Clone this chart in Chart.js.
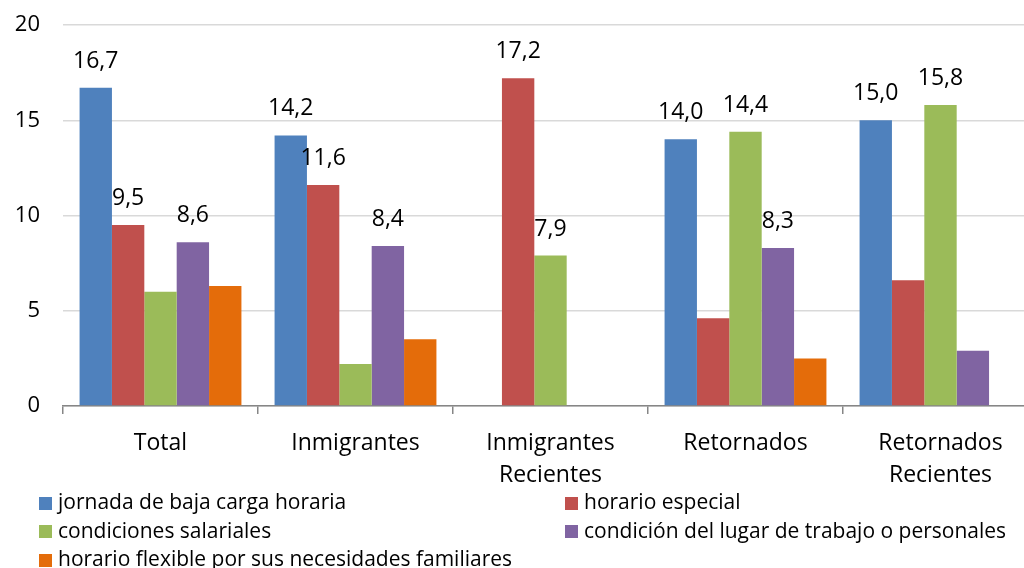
<!DOCTYPE html>
<html><head><meta charset="utf-8">
<script src="https://cdn.jsdelivr.net/npm/chart.js@4.4.0/dist/chart.umd.min.js"></script>
<style>
html,body{margin:0;padding:0;width:1024px;height:568px;overflow:hidden;background:#fff;}
#wrap{position:absolute;left:0;top:0;width:1038px;height:568px;}
#legend{position:absolute;left:0;top:0;width:1024px;height:568px;font-family:'Open Sans',sans-serif;font-size:21px;color:#000;}
.li{position:absolute;white-space:nowrap;display:flex;align-items:center;height:24px;line-height:24px;}
.sw{width:13px;height:13px;margin-right:6px;flex:none;position:relative;top:2px;}
</style></head>
<body>
<div id="wrap"><canvas id="c" width="1038" height="568"></canvas></div>
<div id="legend"></div>
<script>
const categories = [['Total'], ['Inmigrantes'], ['Inmigrantes', 'Recientes'], ['Retornados'], ['Retornados', 'Recientes']];
const seriesNames = ['jornada de baja carga horaria', 'horario especial', 'condiciones salariales', 'condición del lugar de trabajo o personales', 'horario flexible por sus necesidades familiares'];
const seriesColors = ['#4F81BD', '#C0504D', '#9BBB59', '#8064A2', '#E46C0A'];
const jornadaBaja = [16.7, 14.2, null, 14.0, 15.0];
const horarioEspecial = [9.5, 11.6, 17.2, 4.6, 6.6];
const condicionesSalariales = [6.0, 2.2, 7.9, 14.4, 15.8];
const condicionLugar = [8.6, 8.4, null, 8.3, 2.9];
const horarioFlexible = [6.3, 3.5, null, 2.5, null];
// which values carry a printed label in the original
const labelJornada = [true, true, false, true, true];
const labelEspecial = [true, true, true, false, false];
const labelSalariales = [false, false, true, true, true];
const labelLugar = [true, true, false, true, false];
const labelFlexible = [false, false, false, false, false];
const yTicks = [0, 5, 10, 15, 20];

const seriesData = [jornadaBaja, horarioEspecial, condicionesSalariales, condicionLugar, horarioFlexible];
const seriesLabels = [labelJornada, labelEspecial, labelSalariales, labelLugar, labelFlexible];

const FONT = '"Open Sans", sans-serif';

const valueLabels = {
  id: 'valueLabels',
  afterDatasetsDraw(chart) {
    const ctx = chart.ctx;
    ctx.save();
    ctx.font = '23px ' + FONT;
    ctx.fillStyle = '#000';
    ctx.textAlign = 'center';
    ctx.textBaseline = 'alphabetic';
    chart.data.datasets.forEach((ds, i) => {
      const meta = chart.getDatasetMeta(i);
      meta.data.forEach((bar, j) => {
        const v = ds.data[j];
        if (v == null || !ds.showValue[j]) return;
        ctx.fillText(v.toFixed(1).replace('.', ','), bar.x, bar.y - 20);
      });
    });
    ctx.restore();
  }
};

const chart = new Chart(document.getElementById('c'), {
  type: 'bar',
  data: {
    labels: categories,
    datasets: seriesNames.map((n, i) => ({
      label: n,
      data: seriesData[i],
      showValue: seriesLabels[i],
      backgroundColor: seriesColors[i],
      borderWidth: 0,
      categoryPercentage: 0.83,
      barPercentage: 1.0
    }))
  },
  options: {
    responsive: false,
    animation: false,
    devicePixelRatio: 1,
    layout: { padding: { top: 25, left: 0, right: 0, bottom: 0 } },
    plugins: { legend: { display: false }, tooltip: { enabled: false }, title: { display: false } },
    scales: {
      y: {
        min: 0, max: 20,
        afterBuildTicks(scale) { scale.ticks = yTicks.map(v => ({ value: v })); },
        afterFit(scale) { scale.width = 63; scale.paddingTop = 0; scale.paddingBottom = 0; },
        ticks: { font: { family: FONT, size: 22 }, color: '#000', padding: 23 },
        grid: { color: '#D9D9D9', lineWidth: 1.5, drawTicks: false },
        border: { display: false }
      },
      x: {
        afterFit(scale) { scale.height = 162; },
        ticks: { font: { family: FONT, size: 23, lineHeight: 1.39 }, color: '#000', padding: 13, maxRotation: 0, autoSkip: false },
        grid: { drawOnChartArea: false, drawTicks: true, tickLength: 8, color: '#868686', lineWidth: 1.5, offset: true },
        border: { display: true, color: '#868686', width: 1.5 }
      }
    }
  },
  plugins: [valueLabels]
});

// legend (2 columns, row-major), built from the chart datasets
const legend = document.getElementById('legend');
const colX = [39, 565];
const rowY = [501, 529.5, 558];
chart.data.datasets.forEach((ds, i) => {
  const item = document.createElement('div');
  item.className = 'li';
  item.style.left = colX[i % 2] + 'px';
  item.style.top = (rowY[Math.floor(i / 2)] - 12) + 'px';
  const sw = document.createElement('span');
  sw.className = 'sw';
  sw.style.background = ds.backgroundColor;
  const tx = document.createElement('span');
  tx.textContent = ds.label;
  item.appendChild(sw); item.appendChild(tx);
  legend.appendChild(item);
});
</script>
</body></html>
